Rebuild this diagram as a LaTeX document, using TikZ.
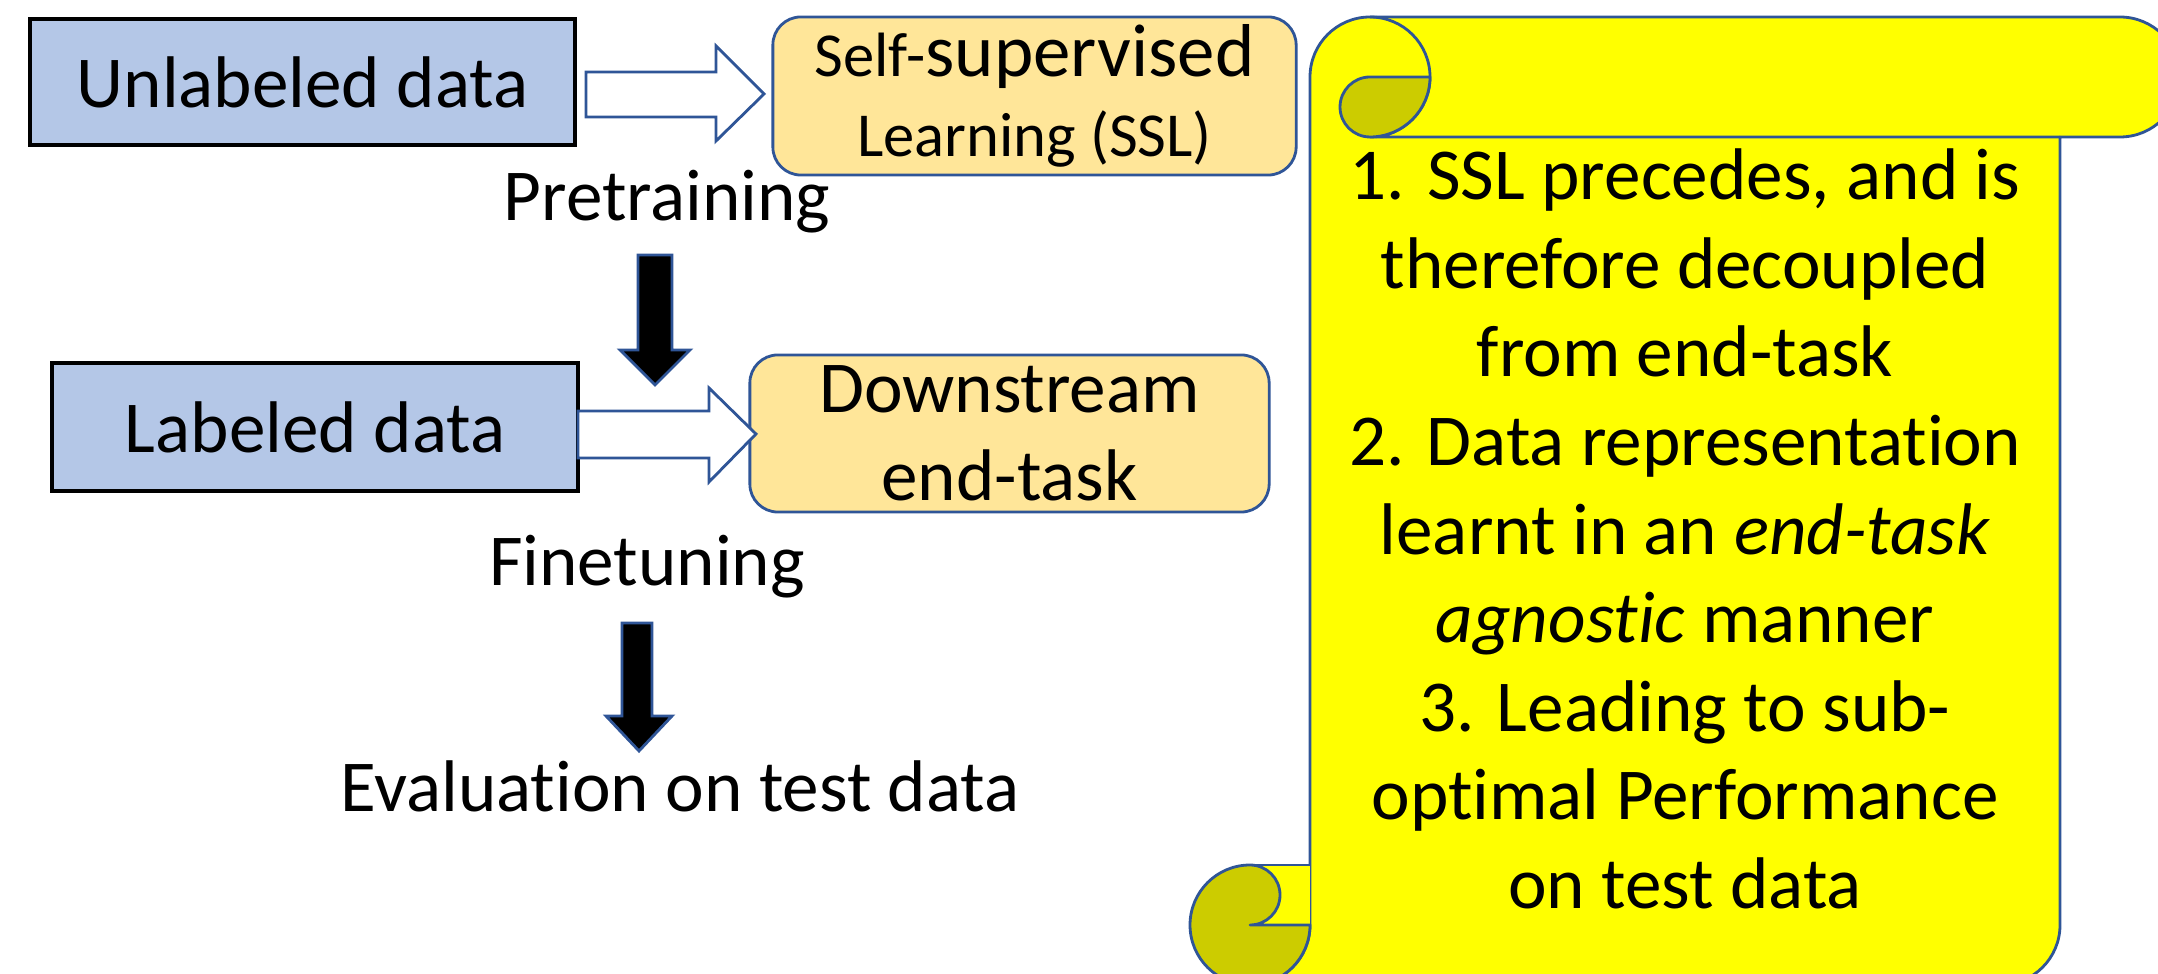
\documentclass[tikz,border=0pt]{standalone}
\usepackage{fontspec}
\setmainfont{Carlito}[Ligatures=NoCommon]
\definecolor{boxblue}{HTML}{B4C7E7}
\definecolor{boxorange}{HTML}{FFE699}
\definecolor{edgeblue}{HTML}{2F5597}
\definecolor{scrollyellow}{HTML}{FFFF00}
\definecolor{scrolldark}{HTML}{CCCC00}

\begin{document}
\begin{tikzpicture}[x=0.01cm, y=0.01cm,
		big/.style={font=\fontsize{20.8}{25.2}\selectfont},
		databox/.style={big, draw=black, line width=1pt, fill=boxblue, inner sep=0pt},
		taskbox/.style={draw=edgeblue, line width=0.8pt, fill=boxorange, rounded corners=0.28cm, inner sep=0pt, align=center},
		hollow/.style={draw=edgeblue, line width=0.8pt, fill=white, line join=miter},
		blackarr/.style={draw=edgeblue, line width=0.8pt, fill=black, line join=miter},
		roll/.style={draw=edgeblue, line width=0.8pt, line join=round}]
		\useasboundingbox (0,0) rectangle (2158,-974);
		\clip (0,0) rectangle (2158,-974);

		% left column
		\node[databox, minimum width=5.45cm, minimum height=1.26cm] (U) at (302.5,-82) {Unlabeled data};
		\node[databox, minimum width=5.26cm, minimum height=1.28cm] (L) at (315,-427) {Labeled data};

		\node[taskbox, minimum width=5.23cm, minimum height=1.58cm, font=\fontsize{17.8}{22.8}\selectfont] (S) at (1034.5,-96)
			{Self-{\fontsize{21.3}{22.8}\selectfont supervised}\\Learning (SSL)};
		\node[taskbox, big, minimum width=5.19cm, minimum height=1.57cm] (D) at (1009.5,-433.5)
			{Downstream\\end-task};

		\node[big, inner sep=0pt] (P) at (667,-202) {Pretraining};
		\node[big, inner sep=0pt] (F) at (647,-567) {Finetuning};
		\node[big, inner sep=0pt] (E) at (680,-786) {Evaluation on test data};

		% block arrows
		\filldraw[hollow] (586,-72) -- (716,-72) -- (716,-46) -- (764,-94) -- (716,-141) -- (716,-117) -- (586,-117) -- cycle;
		\filldraw[hollow] (578,-411) -- (709,-411) -- (709,-388) -- (756,-434) -- (709,-482) -- (709,-458) -- (578,-458) -- cycle;
		\filldraw[blackarr] (638,-255) -- (672,-255) -- (672,-350) -- (690,-350) -- (655,-385) -- (620,-350) -- (638,-350) -- cycle;
		\filldraw[blackarr] (622,-623) -- (652,-623) -- (652,-716) -- (672,-716) -- (639,-751) -- (606,-716) -- (622,-716) -- cycle;

		% scroll
		\filldraw[roll, fill=scrollyellow]
			(1250,-985) arc[start angle=270, end angle=360, radius=60] -- (1310,-77)
			arc[start angle=180, end angle=90, radius=60] -- (2120,-17)
			arc[start angle=90, end angle=-90, radius=60] -- (2060,-137) -- (2060,-925)
			arc[start angle=0, end angle=-90, radius=60] -- cycle;
		\fill[scrollyellow] (1250,-865) rectangle (1310,-925);
		\draw[roll] (1370,-17) arc[start angle=90, end angle=-90, radius=60] -- (2060,-137);
		\filldraw[roll, fill=scrolldark] (1370,-137) arc[start angle=-90, end angle=0, radius=60] -- (1370,-77)
			arc[start angle=90, end angle=270, radius=30] -- cycle;
		\draw[roll] (1250,-865) -- (1310,-865);
		\filldraw[roll, fill=scrolldark] (1250,-865) arc[start angle=90, end angle=360, radius=60] -- (1250,-925)
			arc[start angle=-90, end angle=90, radius=30] -- cycle;

		\node[big, align=center, inner sep=0pt] (T) at (1685,-529)
			{1. SSL precedes, and is\\therefore decoupled\\from end-task\\2. Data representation\\learnt in an \textit{end-task}\\\textit{agnostic} manner\\3. Leading to sub-\\optimal Performance\\on test data};
	\end{tikzpicture}
\end{document}
